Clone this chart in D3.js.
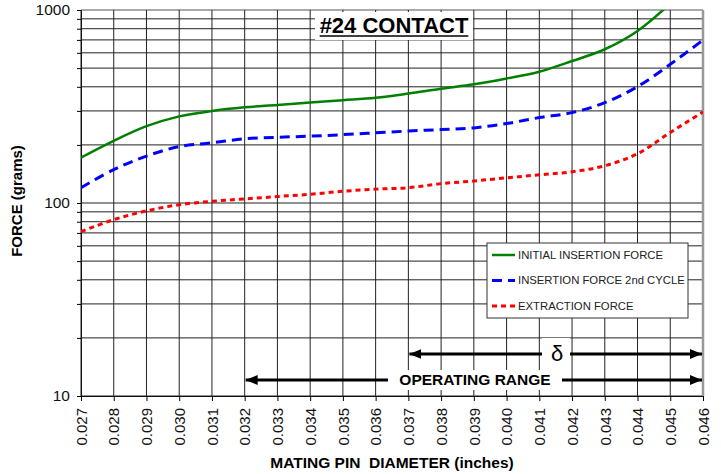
<!DOCTYPE html>
<html lang="en">
<head>
<meta charset="UTF-8">
<title>#24 Contact</title>
<script src="https://d3js.org/d3.v7.min.js"></script>
<style>
  body { margin: 0; background: #fff; }
  text { font-family: "Liberation Sans", Arial, sans-serif; }
</style>
</head>
<body>
<script>
// values (force in grams)
const diameters = [0.027, 0.028, 0.029, 0.030, 0.031, 0.032, 0.033, 0.034, 0.035, 0.036,
                   0.037, 0.038, 0.039, 0.040, 0.041, 0.042, 0.043, 0.044, 0.045, 0.046];
const initialForce = [172, 210, 250, 281, 300, 313, 322, 332, 341, 351,
                      369, 391, 412, 442, 479, 544, 626, 779, 1080, null];
const secondCycle  = [120, 149, 175, 196, 205, 215, 219, 222, 226, 231,
                      236, 240, 245, 258, 277, 294, 331, 401, 523, 699];
const extraction   = [71, 82, 91, 98, 102, 105, 108, 111, 115, 118,
                      120, 126, 130, 135, 140, 145, 156, 180, 232, 296];
const seriesNames = ["INITIAL INSERTION FORCE", "INSERTION FORCE 2nd CYCLE", "EXTRACTION FORCE"];
const yLabels = [10, 100, 1000];
const operatingRange = [0.032, 0.046];
const deltaRange = [0.037, 0.046];

const W = 721, H = 474;
const m = {top: 10, right: 18, bottom: 78, left: 81};

const svg = d3.select("body").append("svg")
    .attr("width", W).attr("height", H);

const x = d3.scaleLinear().domain([0.027, 0.046]).range([m.left, W - m.right]);
const y = d3.scaleLog().domain([10, 1000]).range([H - m.bottom, m.top]);

// grid
const grid = svg.append("g");
grid.selectAll(".h").data(y.ticks()).enter().append("line")
    .attr("x1", m.left).attr("x2", W - m.right)
    .attr("y1", d => y(d)).attr("y2", d => y(d))
    .attr("stroke", d => d === 1000 ? "#aaa" : "#222")
    .attr("stroke-width", d => d === 1000 ? 2 : 1);
grid.selectAll(".v").data(diameters).enter().append("line")
    .attr("x1", d => x(d)).attr("x2", d => x(d))
    .attr("y1", m.top).attr("y2", H - m.bottom)
    .attr("stroke", (d, i) => i === diameters.length - 1 ? "#999" : "#222")
    .attr("stroke-width", (d, i) => i === diameters.length - 1 ? 2.5 : 1);

// axes
const yAxis = svg.append("g").attr("transform", `translate(${m.left},0)`)
    .call(d3.axisLeft(y).tickValues(y.ticks()).tickSize(4).tickSizeOuter(0)
        .tickFormat(d => yLabels.includes(d) ? d : ""));
yAxis.select(".domain").attr("stroke", "#111");
yAxis.selectAll("text").attr("font-size", 15.5).attr("font-family", "Liberation Sans, Arial, sans-serif")
    .attr("fill", "#111").attr("x", -11);

const xAxis = svg.append("g").attr("transform", `translate(0,${H - m.bottom})`)
    .call(d3.axisBottom(x).tickValues(diameters).tickSize(5).tickSizeOuter(0)
        .tickFormat(d3.format(".3f")));
xAxis.select(".domain").attr("stroke", "#111");
xAxis.selectAll("text")
    .attr("font-size", 15).attr("font-family", "Liberation Sans, Arial, sans-serif").attr("fill", "#111")
    .attr("transform", "rotate(-90)")
    .attr("text-anchor", "end")
    .attr("x", -12).attr("y", 0).attr("dy", "0.35em");

// series
svg.append("clipPath").attr("id", "plot")
  .append("rect").attr("x", m.left).attr("y", m.top)
    .attr("width", W - m.left - m.right).attr("height", H - m.top - m.bottom);

const series = [
  {name: seriesNames[0], values: initialForce, color: "#008000", dash: null, width: 2.5},
  {name: seriesNames[1], values: secondCycle, color: "#0000ff", dash: "10,6", width: 3},
  {name: seriesNames[2], values: extraction, color: "#ff0000", dash: "5,4", width: 3}
];

const line = d3.line()
    .defined(d => d[1] != null)
    .x(d => x(d[0])).y(d => y(d[1]))
    .curve(d3.curveCatmullRom.alpha(0.5));

svg.append("g").attr("clip-path", "url(#plot)")
  .selectAll("path").data(series).enter().append("path")
    .attr("d", s => line(diameters.map((d, i) => [d, s.values[i]])))
    .attr("fill", "none")
    .attr("stroke", s => s.color)
    .attr("stroke-width", s => s.width)
    .attr("stroke-dasharray", s => s.dash);

// title
svg.append("rect").attr("x", 315).attr("y", 12).attr("width", 158).attr("height", 28).attr("fill", "#fff");
const title = svg.append("text").attr("x", 394).attr("y", 33)
    .attr("text-anchor", "middle").attr("font-size", 22).attr("font-weight", "bold")
    .text("#24 CONTACT");
const tw = title.node().getComputedTextLength();
svg.append("line").attr("x1", 394 - tw / 2).attr("x2", 394 + tw / 2)
    .attr("y1", 36).attr("y2", 36).attr("stroke", "#000").attr("stroke-width", 1.5);

// legend
const lg = svg.append("g").attr("transform", "translate(487,243)");
lg.append("rect").attr("width", 201).attr("height", 75)
    .attr("fill", "#fff").attr("stroke", "#333").attr("stroke-width", 1);
const rows = lg.selectAll("g").data(series).enter().append("g")
    .attr("transform", (d, i) => `translate(0,${12 + i * 25.5})`);
rows.append("line").attr("x1", 5).attr("x2", 28)
    .attr("stroke", d => d.color).attr("stroke-width", d => d.width)
    .attr("stroke-dasharray", d => d.dash);
rows.append("text").attr("x", 31).attr("dy", "0.35em")
    .attr("font-size", 11.3).attr("fill", "#222").text(d => d.name);

// range arrows
svg.append("defs").append("marker").attr("id", "arr")
    .attr("viewBox", "0 0 12 10").attr("refX", 12).attr("refY", 5)
    .attr("markerWidth", 12).attr("markerHeight", 10)
    .attr("markerUnits", "userSpaceOnUse").attr("orient", "auto-start-reverse")
  .append("path").attr("d", "M0,0L12,5L0,10Z").attr("fill", "#000");

function rangeArrow(range, yPos, gap, label, cx, fontAttrs) {
  svg.append("line")
      .attr("x1", x(range[0]) + 1).attr("x2", x(range[1]) - 1)
      .attr("y1", yPos).attr("y2", yPos)
      .attr("stroke", "#000").attr("stroke-width", 3)
      .attr("marker-start", "url(#arr)").attr("marker-end", "url(#arr)");
  svg.append("rect").attr("x", gap[0]).attr("width", gap[1] - gap[0])
      .attr("y", yPos - gap[2]).attr("height", gap[2] * 2).attr("fill", "#fff");
  const t = svg.append("text").attr("x", cx).attr("y", yPos).attr("dy", "0.35em")
      .attr("text-anchor", "middle").text(label);
  Object.entries(fontAttrs).forEach(([k, v]) => t.attr(k, v));
}
rangeArrow(deltaRange, 354, [542, 570, 16], "δ", 557,
  {"font-size": 22, "font-family": "Liberation Serif, DejaVu Serif, serif", "dy": "0.3em"});
rangeArrow(operatingRange, 380, [388, 562, 10], "OPERATING RANGE", 475,
  {"font-size": 15.5, "font-weight": "bold"});

// axis titles
svg.append("text").attr("transform", "translate(22,201) rotate(-90)")
    .attr("text-anchor", "middle").attr("font-size", 15).attr("font-weight", "bold")
    .text("FORCE (grams)");
svg.append("text").attr("x", 392).attr("y", 468)
    .attr("text-anchor", "middle").attr("font-size", 15.5).attr("font-weight", "bold")
    .style("white-space", "pre")
    .text("MATING PIN  DIAMETER (inches)");
</script>
</body>
</html>
